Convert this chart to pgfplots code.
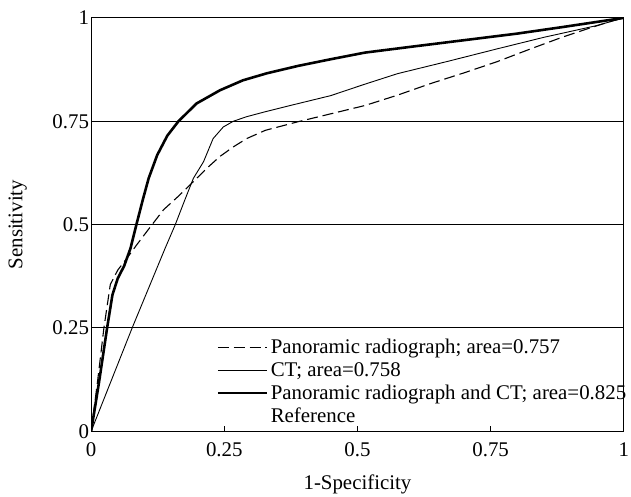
\documentclass[border=0pt]{standalone}
\usepackage{pgfplots}
\pgfplotsset{compat=1.18}
\usepackage{fontspec}
\setmainfont{Liberation Serif}

\begin{document}
\begin{tikzpicture}
\begin{axis}[
  scale only axis,
  width=536pt, height=416pt,
  xmin=0, xmax=1, ymin=0, ymax=1,
  font=\fontsize{21}{23}\selectfont,
  /pgf/number format/assume math mode=true,
  xtick={0,0.25,0.5,0.75,1}, xticklabels={0,0.25,0.5,0.75,1},
  ytick={0,0.25,0.5,0.75,1}, yticklabels={0,0.25,0.5,0.75,1},
  tick align=inside, xtick pos=bottom, ytick pos=left,
  major tick length=5pt,
  every tick/.style={black, line width=1pt},
  ymajorgrids,
  grid style={black, line width=1.1pt},
  axis line style={line width=1.1pt},
  xticklabel style={inner sep=2pt, yshift=-9pt},
  yticklabel style={inner sep=2pt},
  xlabel={1-Specificity}, ylabel={Sensitivity},
  xlabel style={at={(rel axis cs:0.5,0)}, anchor=center, yshift=-53pt},
  ylabel style={at={(axis description cs:-0.138,0.5)}, anchor=center},
  legend style={at={(rel axis cs:0.235,0.228)}, anchor=north west,
    draw=none, fill=none, inner sep=0pt, row sep=3.2pt,
    nodes={inner sep=2pt}},
  legend cell align=left,
  legend image code/.code={\draw[#1] (0pt,0pt) -- (50pt,0pt);},
]
\addplot[black, line width=1.1pt, dash pattern=on 11pt off 5pt, line join=round] coordinates {
(0,0) (0.012,0.12) (0.024,0.25) (0.036,0.355) (0.05,0.39) (0.068,0.42)
(0.085,0.45) (0.105,0.484) (0.136,0.536) (0.165,0.57) (0.192,0.604)
(0.217,0.636) (0.242,0.665) (0.267,0.688) (0.292,0.708) (0.327,0.728)
(0.389,0.749) (0.45,0.768) (0.514,0.788) (0.575,0.813) (0.637,0.841)
(0.70,0.867) (0.762,0.894) (0.825,0.925) (0.886,0.954) (0.94,0.977)
(0.979,0.993) (1,1)
};
\addlegendentry{Panoramic radiograph; area=0.757}
\addplot[black, line width=0.9pt, line join=round] coordinates {
(0,0) (0.077,0.25) (0.139,0.443) (0.158,0.5) (0.176,0.56) (0.192,0.612)
(0.211,0.652) (0.229,0.708) (0.248,0.736) (0.267,0.75) (0.292,0.761)
(0.327,0.773) (0.38,0.79) (0.45,0.812) (0.51,0.838) (0.575,0.865)
(0.67,0.895) (0.762,0.925) (0.85,0.953) (0.948,0.981) (1,1)
};
\addlegendentry{CT; area=0.758}
\addplot[black, line width=2.6pt, line join=round] coordinates {
(0,0) (0.015,0.12) (0.030,0.25) (0.040,0.33) (0.050,0.37) (0.062,0.40)
(0.074,0.443) (0.085,0.50) (0.097,0.56) (0.108,0.612) (0.124,0.668)
(0.143,0.715) (0.164,0.75) (0.198,0.793) (0.242,0.825) (0.285,0.849)
(0.33,0.866) (0.389,0.884) (0.45,0.90) (0.514,0.916) (0.60,0.93)
(0.70,0.946) (0.80,0.962) (0.886,0.978) (1,1)
};
\addlegendentry{Panoramic radiograph and CT; area=0.825}
\addlegendimage{empty legend}
\addlegendentry{Reference}
\end{axis}
\path[use as bounding box] (-91.7pt,-65pt) rectangle (539.3pt,434pt);
\end{tikzpicture}
\end{document}
